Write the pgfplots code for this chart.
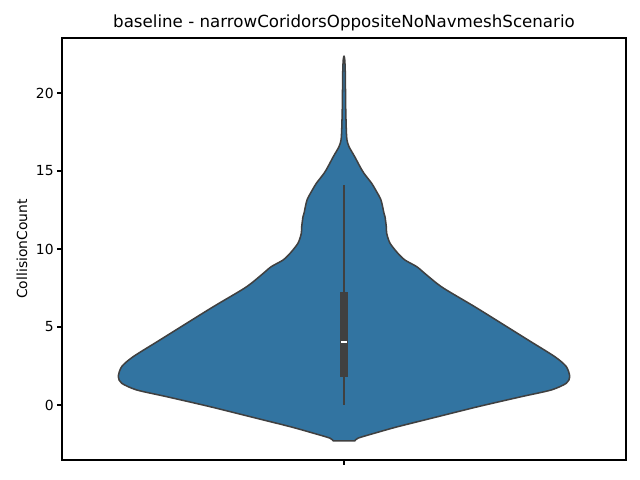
\documentclass[border=0pt]{standalone}
\usepackage{pgfplots}
\pgfplotsset{compat=1.18}
\usepackage{fontspec}
\setmainfont{DejaVu Sans}
\definecolor{violinfill}{HTML}{3274A1}
\definecolor{edgegray}{HTML}{404040}
\begin{document}
\begin{tikzpicture}
\begin{axis}[
  scale only axis,
  width=406.08pt, height=303.84pt,
  xmin=-0.5, xmax=0.5,
  ymin=-3.53, ymax=23.53,
  xtick={0}, xticklabels={},
  ytick={0,5,10,15,20},
  tick align=outside,
  major tick length=3.5pt,
  every tick/.style={black, line width=0.8pt},
  axis line style={line width=0.8pt},
  tick pos=lower,
  /pgf/number format/assume math mode=true,
  ticklabel style={font=\fontsize{10}{12}\selectfont},
  yticklabel style={xshift=1pt},
  title={baseline - narrowCoridorsOppositeNoNavmeshScenario},
  title style={at={(axis description cs:0.5,1)}, anchor=center, yshift=5pt, font=\fontsize{12}{14}\selectfont},
  ylabel={CollisionCount},
  ylabel style={at={(axis description cs:-0.0709,0.5)}, anchor=center, font=\fontsize{10}{12}\selectfont},
  clip=false,
]
% violin outline (half-width, value), right side up, left side down
\addplot[fill=violinfill, draw=edgegray, line width=1.1pt, line join=round, smooth, tension=0.45] coordinates {
(0.0191,-2.31) (0.0248,-2.13) (0.0544,-1.81) (0.0957,-1.39) (0.1667,-0.75)
(0.2376,-0.11) (0.3144,0.53) (0.3675,0.96) (0.3941,1.39) (0.4002,1.81)
(0.3941,2.46) (0.3736,3.10) (0.3262,4.17) (0.2789,5.24) (0.2317,6.30)
(0.1817,7.37) (0.1644,7.80) (0.1431,8.44) (0.1289,8.87) (0.1082,9.29)
(0.0957,9.72) (0.0816,10.37) (0.0757,11.00) (0.0750,11.43) (0.0727,12.07)
(0.0709,12.29) (0.0656,13.14) (0.0562,13.78) (0.0491,14.21) (0.0355,14.85)
(0.0284,15.28) (0.0190,15.92) (0.0089,16.56) (0.0053,16.99) (0.0041,17.63)
(0.0030,19.12) (0.0023,21.26) (0.0014,22.12) (0,22.37)
(-0.0014,22.12) (-0.0023,21.26) (-0.0030,19.12) (-0.0041,17.63) (-0.0053,16.99)
(-0.0089,16.56) (-0.0190,15.92) (-0.0284,15.28) (-0.0355,14.85) (-0.0491,14.21)
(-0.0562,13.78) (-0.0656,13.14) (-0.0709,12.29) (-0.0727,12.07) (-0.0750,11.43)
(-0.0757,11.00) (-0.0816,10.37) (-0.0957,9.72) (-0.1082,9.29) (-0.1289,8.87)
(-0.1431,8.44) (-0.1644,7.80) (-0.1817,7.37) (-0.2317,6.30) (-0.2789,5.24)
(-0.3262,4.17) (-0.3736,3.10) (-0.3941,2.46) (-0.4002,1.81) (-0.3941,1.39)
(-0.3675,0.96) (-0.3144,0.53) (-0.2376,-0.11) (-0.1667,-0.75) (-0.0957,-1.39)
(-0.0544,-1.81) (-0.0248,-2.13) (-0.0191,-2.31)
} -- cycle;
% whisker
\addplot[edgegray, line width=1.44pt] coordinates {(0,0) (0,14.1)};
% box (interquartile range)
\addplot[edgegray, line width=5.6pt] coordinates {(0,1.81) (0,7.24)};
% median
\addplot[white, line width=1.4pt] coordinates {(-0.0053,4.06) (0.0053,4.06)};
\end{axis}
\path ([shift={(-44.64pt,-14.4pt)}]current axis.south west) rectangle ([shift={(10.08pt,27.36pt)}]current axis.north east);
\end{tikzpicture}
\end{document}
